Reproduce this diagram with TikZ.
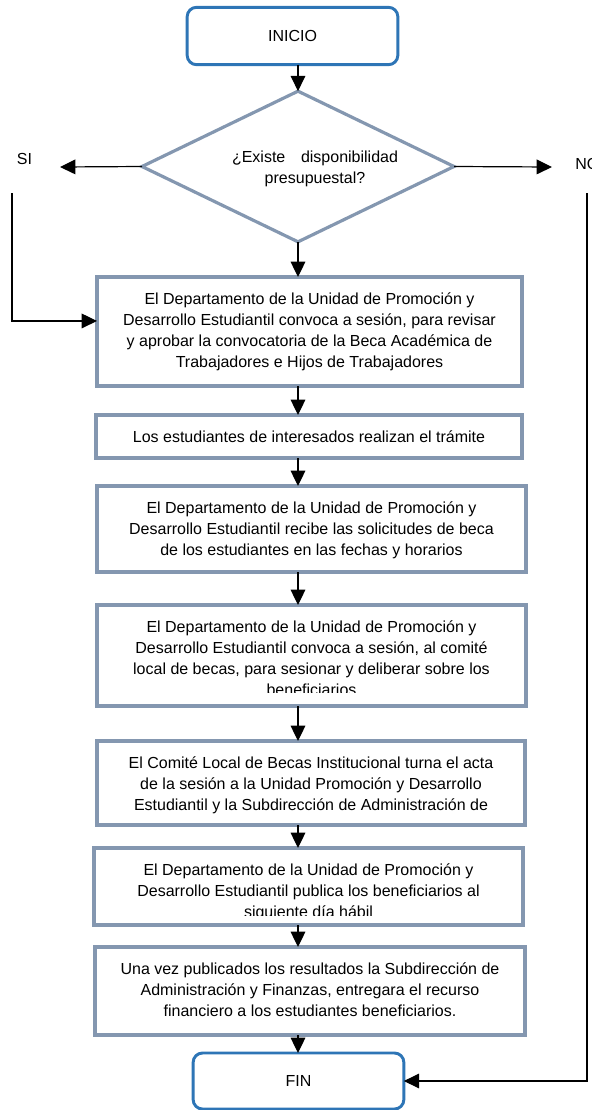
\documentclass[tikz,border=0pt]{standalone}
\usepackage{fontspec}
\setmainfont{Liberation Sans}
\usetikzlibrary{shapes.geometric,arrows.meta}
\definecolor{boxgray}{HTML}{8497B0}
\definecolor{termblue}{HTML}{2E75B6}

\begin{document}
\begin{tikzpicture}[x=0.75pt,y=-0.75pt,
    font=\fontsize{12}{15.75}\selectfont,
    term/.style={draw=termblue, line width=2.2pt, rounded corners=7pt, minimum width=158pt, minimum height=43pt, inner sep=0pt, outer sep=0pt},
    decision/.style={diamond, draw=boxgray, line width=2.4pt, minimum width=234pt, minimum height=113pt, inner sep=0pt, outer sep=0pt},
    procbox/.style={draw=boxgray, line width=2.4pt, minimum width=321pt, inner sep=0pt, outer sep=0pt},
    proctext/.style={anchor=north, align=center, inner sep=0pt},
    arr/.style={-{Triangle[length=11.5pt,width=11pt]}, line width=0.9pt, draw=black},
    branch/.style={line width=0.8pt, draw=black!80}]
    \useasboundingbox (0,0) rectangle (592,1110);

    % terminals and decision
    \node[term] (ini) at (292.5,36) {INICIO};
    \node[decision] (q) at (298,166.5) {};
    \node[align=center, inner sep=0pt] (qt) at (315,169) {\makebox[124.5pt]{¿Existe\hfill disponibilidad}\\presupuestal?};
    \node[inner sep=0pt] (si) at (24.5,159) {SI};
    \node[inner sep=0pt, anchor=west] (no) at (575,164) {NO};
    \coordinate (siend) at (60,167);
    \coordinate (noend) at (552,167);
    \coordinate (sitop) at (12,193);
    \coordinate (notop) at (587,193);

    % process boxes
    \node[procbox, minimum width=318.75pt, minimum height=81.75pt] (b1) at (309.5,331.5) {};
    \node[proctext] (t1) at ([yshift=-11.5pt]b1.north) {El Departamento de la Unidad de Promoción y\\Desarrollo Estudiantil convoca a sesión, para revisar\\y aprobar la convocatoria de la Beca Académica de\\Trabajadores e Hijos de Trabajadores};

    \node[procbox, minimum width=319.5pt, minimum height=32.25pt] (b2) at (309,436.5) {};
    \node[proctext] (t2) at ([yshift=-11.5pt]b2.north) {Los estudiantes de interesados realizan el trámite};

    \node[procbox, minimum width=321.75pt, minimum height=64.5pt] (b3) at (311.5,529) {};
    \node[proctext] (t3) at ([yshift=-11.5pt]b3.north) {El Departamento de la Unidad de Promoción y\\Desarrollo Estudiantil recibe las solicitudes de beca\\de los estudiantes en las fechas y horarios};

    \node[procbox, minimum width=321.75pt, minimum height=75.75pt] (b4) at (311.5,655.5) {};
    \begin{scope}
        \clip ([yshift=10pt]b4.south west) rectangle (b4.north east);
        \node[proctext] (t4) at ([yshift=-11.5pt]b4.north) {El Departamento de la Unidad de Promoción y\\Desarrollo Estudiantil convoca a sesión, al comité\\local de becas, para sesionar y deliberar sobre los\\beneficiarios};
    \end{scope}

    \node[procbox, minimum width=321pt, minimum height=63pt] (b5) at (311,783) {};
    \node[proctext] (t5) at ([yshift=-11.5pt]b5.north) {El Comité Local de Becas Institucional turna el acta\\de la sesión a la Unidad Promoción y Desarrollo\\Estudiantil y la Subdirección de Administración de};

    \node[procbox, minimum width=321.75pt, minimum height=57.75pt] (b6) at (308.5,886.5) {};
    \begin{scope}
        \clip ([yshift=7.5pt]b6.south west) rectangle (b6.north east);
        \node[proctext] (t6) at ([yshift=-11.5pt]b6.north) {El Departamento de la Unidad de Promoción y\\Desarrollo Estudiantil publica los beneficiarios al\\siguiente día hábil};
    \end{scope}

    \node[procbox, minimum width=322.5pt, minimum height=66pt] (b7) at (310,991) {};
    \node[proctext] (t7) at ([yshift=-11.5pt]b7.north) {Una vez publicados los resultados la Subdirección de\\Administración y Finanzas, entregara el recurso\\financiero a los estudiantes beneficiarios.};

    \node[term, minimum height=42pt] (fin) at (298.5,1081) {FIN};

    % connectors
    \draw[arr] (ini.south -| q.north) -- (q.north);
    \draw[arr] (q.west) -- (siend);
    \draw[arr] (q.east) -- (noend);
    \draw[arr] (q.south) -- (q.south |- b1.north);
    \draw[arr] (b1.south -| q.south) -- (q.south |- b2.north);
    \draw[arr] (b2.south -| q.south) -- (q.south |- b3.north);
    \draw[arr] (b3.south -| q.south) -- (q.south |- b4.north);
    \draw[arr] (b4.south -| q.south) -- (q.south |- b5.north);
    \draw[arr] (b5.south -| q.south) -- (q.south |- b6.north);
    \draw[arr] (b6.south -| q.south) -- (q.south |- b7.north);
    \draw[arr] (b7.south -| q.south) -- (q.south |- fin.north);
    \draw[branch, arr, line width=0.8pt] (sitop) |- ([yshift=7.9pt]b1.west);
    \draw[branch, arr, line width=0.8pt] (notop) |- (fin.east);
\end{tikzpicture}
\end{document}
